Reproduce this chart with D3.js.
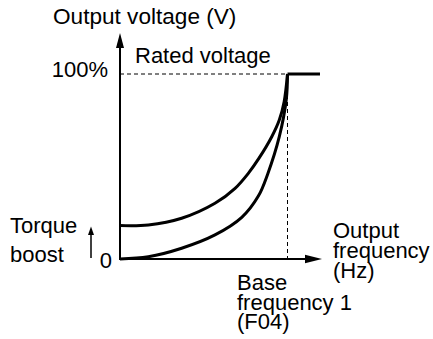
<!DOCTYPE html>
<html>
<head>
<meta charset="utf-8">
<script src="https://cdn.jsdelivr.net/npm/d3@7"></script>
<style>
  html, body { margin: 0; padding: 0; background: #fff; }
  svg { display: block; }
  text { font-family: "Liberation Sans", Arial, Helvetica, sans-serif; font-size: 22px; fill: #000; }
  text.title { font-size: 22.6px; }
</style>
</head>
<body>
<svg id="chart" width="433" height="339"></svg>
<script>
// V/f pattern: output voltage (% of rated) against output frequency (% of base frequency)

// Curve with torque boost
const boostFreq = [0, 16.9, 36.8, 56.7, 68.7, 76.6, 83.0, 90.6, 95.1, 98.0, 100];
const boostVolt = [18.1, 18.4, 22.0, 30.1, 38.2, 46.3, 54.5, 66.1, 75.1, 85.0, 100];

// Curve without boost
const plainFreq = [0, 16.9, 36.8, 56.7, 72.7, 82.6, 88.2, 95.1, 99.3, 100];
const plainVolt = [0, 1.2, 5.8, 13.0, 22.5, 34.0, 46.0, 66.1, 86.5, 100];

// Constant rated voltage above base frequency
const ratedFreq = [100, 119.4];
const ratedVolt = [100, 100];

// Axis ends (arrow tips)
const axisMaxFreq = 120.6;
const axisMaxVolt = 122.2;

const yTickValues = [0, 100];
const yTickLabels = ["0", "100%"];

const svg = d3.select("#chart");

const x = d3.scaleLinear().domain([0, 100]).range([120, 287.5]);
const y = d3.scaleLinear().domain([0, 100]).range([259, 74]);

const toPoints = (fs, vs) => fs.map((f, i) => [f, vs[i]]);

// Reference dashed guides at rated voltage and base frequency
svg.append("line")
  .attr("x1", x(0)).attr("x2", x(100))
  .attr("y1", y(100)).attr("y2", y(100))
  .attr("stroke", "#000").attr("stroke-width", 1)
  .attr("stroke-dasharray", "4,3");
svg.append("line")
  .attr("x1", x(100)).attr("x2", x(100))
  .attr("y1", y(100)).attr("y2", y(0))
  .attr("stroke", "#000").attr("stroke-width", 1)
  .attr("stroke-dasharray", "4,3");

// Axes with arrowheads
function arrowHead(tipX, tipY, dir, len, half) {
  let pts;
  if (dir === "up") pts = [[tipX, tipY], [tipX - half, tipY + len], [tipX + half, tipY + len]];
  else pts = [[tipX, tipY], [tipX - len, tipY - half], [tipX - len, tipY + half]];
  svg.append("path").attr("d", d3.line()(pts) + "Z").attr("fill", "#000");
}

svg.append("line")
  .attr("x1", x(0)).attr("x2", x(0))
  .attr("y1", y(0) + 1).attr("y2", y(axisMaxVolt) + 10)
  .attr("stroke", "#000").attr("stroke-width", 2);
arrowHead(x(0), y(axisMaxVolt), "up", 15, 4);

svg.append("line")
  .attr("x1", x(0) - 1).attr("x2", x(axisMaxFreq) - 10)
  .attr("y1", y(0)).attr("y2", y(0))
  .attr("stroke", "#000").attr("stroke-width", 2);
arrowHead(x(axisMaxFreq), y(0), "right", 17, 4.2);

// Curves
const line = d3.line().x(d => x(d[0])).y(d => y(d[1])).curve(d3.curveCatmullRom.alpha(0.5));

[toPoints(boostFreq, boostVolt), toPoints(plainFreq, plainVolt)].forEach(pts => {
  svg.append("path")
    .attr("d", line(pts))
    .attr("fill", "none").attr("stroke", "#000")
    .attr("stroke-width", 3).attr("stroke-linejoin", "round");
});

svg.append("path")
  .attr("d", d3.line().x(d => x(d[0])).y(d => y(d[1]))(toPoints(ratedFreq, ratedVolt)))
  .attr("fill", "none").attr("stroke", "#000").attr("stroke-width", 3);

// Voltage tick labels
const tickDy = { 0: 9, 100: 3 };
const tickEnd = { 0: 112, 100: 108 };
yTickValues.forEach((v, i) => {
  svg.append("text")
    .attr("x", tickEnd[v]).attr("y", y(v) + tickDy[v])
    .attr("text-anchor", "end")
    .text(yTickLabels[i]);
});

// Titles and annotations
function multiText(xPos, yPos, lines, lh, cls) {
  const t = svg.append("text").attr("x", xPos).attr("y", yPos);
  if (cls) t.attr("class", cls);
  lines.forEach((s, i) => {
    t.append("tspan").attr("x", xPos).attr("dy", i === 0 ? 0 : lh).text(s);
  });
}

multiText(53, 24, ["Output voltage (V)"], 0, "title");
multiText(135, 63, ["Rated voltage"], 0);
multiText(333, 238, ["Output", "frequency", "(Hz)"], 20);
multiText(237, 290, ["Base", "frequency 1", "(F04)"], 19.7);
multiText(10, 233, ["Torque", "boost"], 28.5);

// Torque boost indicator arrow
svg.append("line")
  .attr("x1", 91).attr("x2", 91)
  .attr("y1", 258).attr("y2", 233)
  .attr("stroke", "#000").attr("stroke-width", 1.5);
svg.append("path")
  .attr("d", d3.line()([[91, 226.5], [88, 235], [94, 235]]) + "Z")
  .attr("fill", "#000");
</script>
</body>
</html>
